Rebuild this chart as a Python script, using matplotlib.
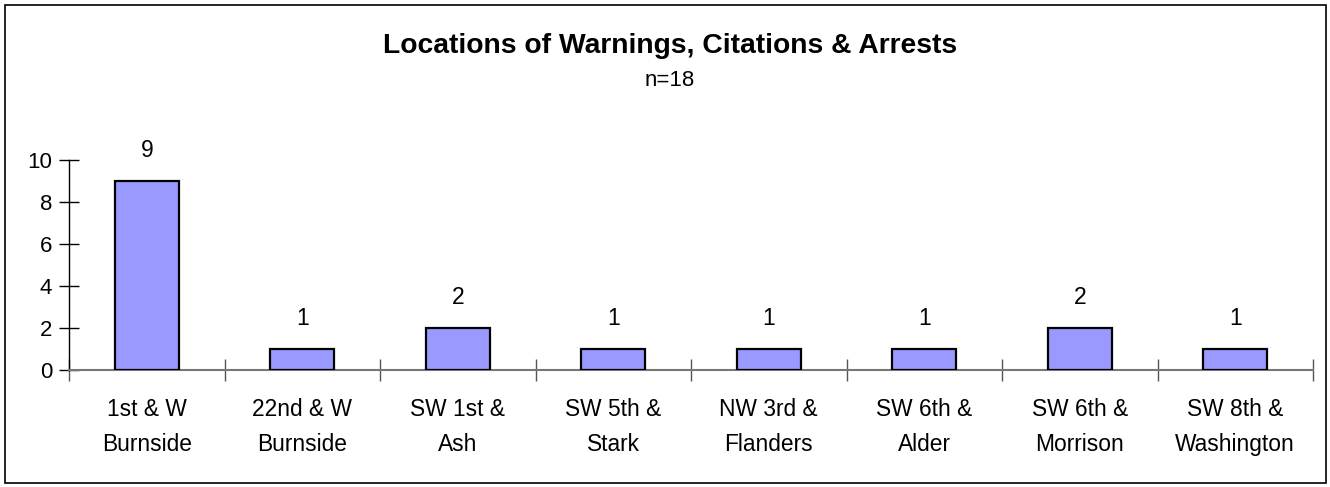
import matplotlib.pyplot as plt
import numpy as np
from matplotlib.patches import Rectangle

locations = ['1st & W\nBurnside', '22nd & W\nBurnside', 'SW 1st &\nAsh', 'SW 5th &\nStark',
             'NW 3rd &\nFlanders', 'SW 6th &\nAlder', 'SW 6th &\nMorrison', 'SW 8th &\nWashington']
counts = [9, 1, 2, 1, 1, 1, 2, 1]
yticks = [0, 2, 4, 6, 8, 10]

plt.rcParams['font.family'] = ['Liberation Sans', 'DejaVu Sans']

W, H = 1330, 487
fig = plt.figure(figsize=(W/100, H/100), dpi=100)
ax = fig.add_axes([69/W, (H-370)/H, (1313-69)/W, 210/H])

x = np.arange(len(counts))
bars = ax.bar(x, counts, width=0.41, color='#9999ff', edgecolor='black', linewidth=1.6, zorder=3)
for xi, c in zip(x, counts):
    ax.annotate(str(c), (xi, c), xytext=(0, 14), textcoords='offset points',
                ha='center', va='bottom', fontsize=16.5)

ax.set_xlim(-0.5, len(counts) - 0.5)
ax.set_ylim(0, 10)
ax.set_yticks(yticks)
ax.set_yticklabels([str(t) for t in yticks], fontsize=16)
ax.set_xticks(x)
ax.set_xticklabels(locations, fontsize=16.4, linespacing=1.7)
ax.set_xticks(np.arange(-0.5, len(counts)), minor=True)
ax.tick_params(axis='x', which='major', length=0, pad=20)
ax.tick_params(axis='x', which='minor', direction='inout', length=16, width=1, color='#555555')
ax.tick_params(axis='y', direction='inout', length=14, width=1, pad=5)
for s in ['top', 'right']:
    ax.spines[s].set_visible(False)
ax.spines['left'].set_linewidth(1)
ax.spines['bottom'].set_color('#777777')
ax.spines['bottom'].set_linewidth(1.5)

fig.text(670/W, (H-46)/H, 'Locations of Warnings, Citations & Arrests', ha='center', va='center',
         fontsize=20.3, fontweight='bold')
fig.text(670/W, (H-81)/H, 'n=18', ha='center', va='center', fontsize=16)

fig.add_artist(Rectangle((5/W, 4/H), 1321/W, 478/H, transform=fig.transFigure,
                         fill=False, edgecolor='black', linewidth=1.2))

fig.savefig('out.png', dpi=100)
